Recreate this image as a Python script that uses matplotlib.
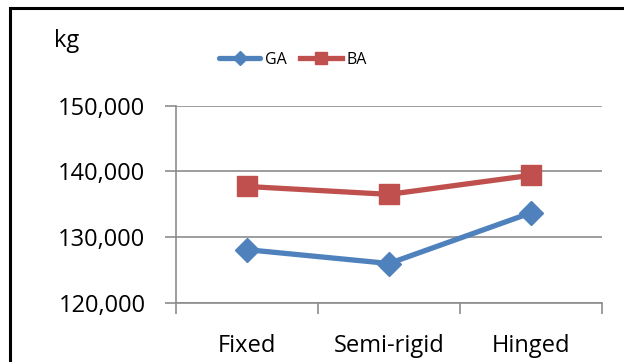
import matplotlib
matplotlib.use("Agg")
import matplotlib.pyplot as plt
from matplotlib.patches import Rectangle
from matplotlib.ticker import FuncFormatter

categories = ["Fixed", "Semi-rigid", "Hinged"]
ga_values = [128100, 126000, 133700]
ba_values = [137700, 136500, 139400]
y_ticks = [120000, 130000, 140000, 150000]

W, H = 624, 362
fig = plt.figure(figsize=(W / 100, H / 100), dpi=100)
plt.rcParams["font.family"] = ["Open Sans", "DejaVu Sans"]

# outer chart frame (extends past right/bottom edge)
fig.patches.append(Rectangle((10 / W, -0.1), 1.2, (H - 8) / H + 0.1,
                             transform=fig.transFigure, fill=False,
                             edgecolor="black", linewidth=2.2, zorder=10))

left, right, top, bottom = 176, 602, 105.5, 303
ax = fig.add_axes([left / W, 1 - bottom / H, (right - left) / W, (bottom - top) / H])

x = list(range(len(categories)))
ax.plot(x, ga_values, color="#4F81BD", lw=3.8, marker="D", markersize=12,
        label="GA", solid_capstyle="round", zorder=3)
ax.plot(x, ba_values, color="#C0504D", lw=3.8, marker="s", markersize=14,
        label="BA", zorder=3)

ax.set_xlim(-0.5, len(categories) - 0.5)
ax.set_ylim(120000, 150000)
ax.set_yticks(y_ticks)
ax.yaxis.set_major_formatter(FuncFormatter(lambda v, p: f"{int(v):,}"))
ax.set_xticks(x)
ax.set_xticklabels(categories)
ax.set_xticks([-0.5, 0.5, 1.5, 2.5], minor=True)

ax.grid(axis="y", color="#8c8c8c", lw=1.2)
ax.set_axisbelow(True)
for s in ["top", "right"]:
    ax.spines[s].set_visible(False)
for s in ["left", "bottom"]:
    ax.spines[s].set_color("#8c8c8c")
    ax.spines[s].set_linewidth(1.2)

ax.tick_params(axis="y", length=8, width=1.2, color="#8c8c8c", labelsize=17, pad=14)
ax.tick_params(axis="x", which="major", length=0, labelsize=17, pad=22)
ax.tick_params(axis="x", which="minor", length=8, width=1.2, color="#8c8c8c")

fig.text(54 / W, 1 - 41 / H, "kg", fontsize=17, va="center", ha="left")

leg = fig.legend(loc="center", bbox_to_anchor=(293 / W, 1 - 60 / H), ncol=2,
                 frameon=False, fontsize=11.5, handlelength=2.6, columnspacing=0.85,
                 handletextpad=0.3, markerscale=0.6)

fig.savefig("out.png", dpi=100)
